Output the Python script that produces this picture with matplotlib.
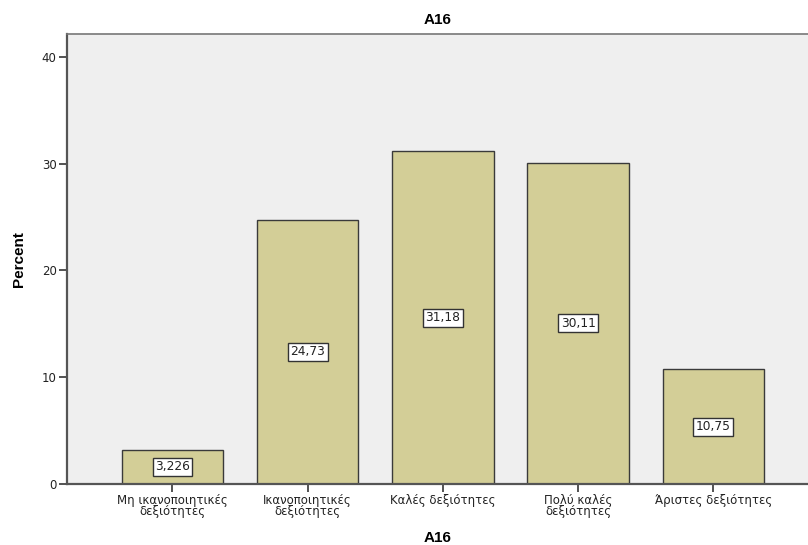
import matplotlib
matplotlib.use("Agg")
import matplotlib.pyplot as plt

plt.rcParams['font.family'] = ['DejaVu Sans']

categories = ["Μη ικανοποιητικές\nδεξιότητες", "Ικανοποιητικές\nδεξιότητες",
              "Καλές δεξιότητες", "Πολύ καλές\nδεξιότητες", "Άριστες δεξιότητες"]
values = [3.226, 24.73, 31.18, 30.11, 10.75]
labels = ["3,226", "24,73", "31,18", "30,11", "10,75"]
yticks = [0, 10, 20, 30, 40]

fig = plt.figure(figsize=(8.08, 5.45), dpi=100)
ax = fig.add_axes([67/808, 61/545, 1 - 67/808, (484-34)/545])
ax.set_facecolor('#efefef')
x = list(range(len(categories)))
ax.bar(x, values, width=0.75, color='#d3ce97', edgecolor='#3a3a3a', linewidth=1.0, zorder=2)
for xi, v, lab in zip(x, values, labels):
    ax.text(xi, v/2, lab, ha='center', va='center', fontsize=8.8, zorder=3, color='#222222',
            bbox=dict(boxstyle='square,pad=0.2', facecolor='white', edgecolor='#333333', linewidth=1.0))
ax.set_xlim(-0.78, 4.7)
ax.set_ylim(0, 42.15)
ax.set_xticks(x)
ax.set_xticklabels(categories, fontsize=8.5, linespacing=0.8, color='#222222')
ax.set_yticks(yticks)
ax.set_yticklabels([str(t) for t in yticks], fontsize=8.5, color='#222222')
ax.tick_params(axis='both', length=6, width=1.3, color='#444444', pad=1.5)
for s in ['left', 'bottom']:
    ax.spines[s].set_color('#555555')
    ax.spines[s].set_linewidth(1.6)
ax.spines['top'].set_color('#777777')
ax.spines['top'].set_linewidth(1.2)
ax.spines['right'].set_visible(False)
ax.set_title("A16", fontsize=11, fontweight='bold', pad=7, family='Liberation Sans')
ax.set_xlabel("A16", fontsize=11, fontweight='bold', labelpad=9, family='Liberation Sans')
ax.set_ylabel("Percent", fontsize=11, fontweight='bold', labelpad=11, family='Liberation Sans')
fig.savefig("out.png", dpi=100)
